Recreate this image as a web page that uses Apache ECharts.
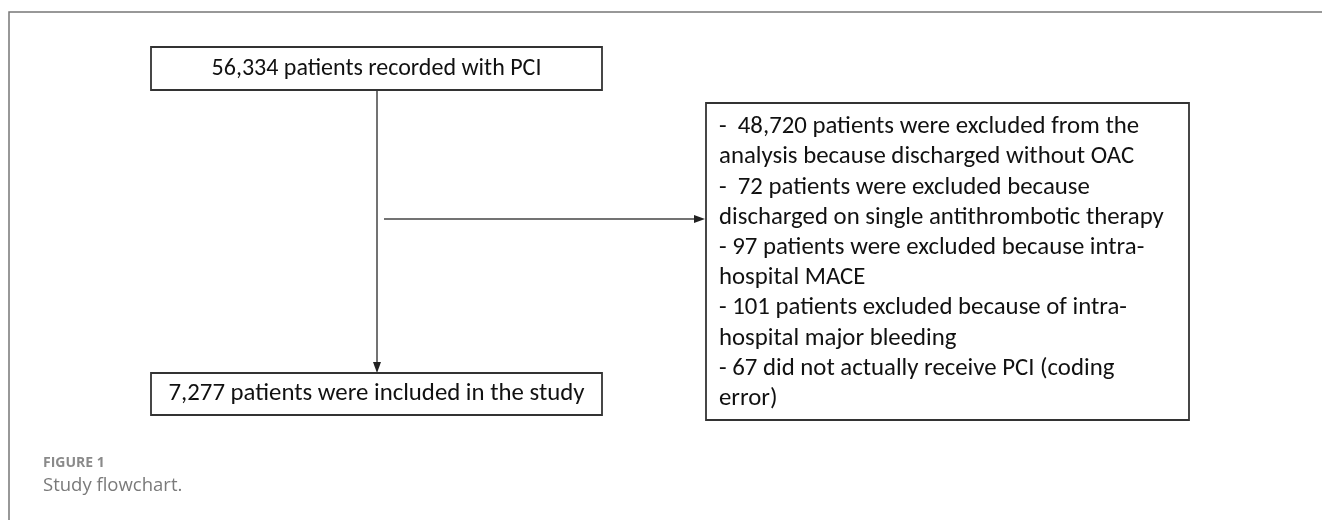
<!DOCTYPE html>
<html>
<head>
    <meta charset="utf-8">
    <title>Study flowchart</title>
    <script src="https://cdn.jsdelivr.net/npm/echarts@6/dist/echarts.min.js"></script>
</head>
<style>
    html, body{
        margin: 0;
        padding: 0;
        background: #fff;
    }
    #main{
        width: 1322px;
        height: 520px;
    }
</style>
<body>
<div id="main"></div>
<script>
    // flowchart content
    var topBox = '56,334 patients recorded with PCI';
    var bottomBox = '7,277 patients were included in the study';
    var exclusionLines = [
        '-  48,720 patients were excluded from the',
        'analysis because discharged without OAC',
        '-  72 patients were excluded because',
        'discharged on single antithrombotic therapy',
        '- 97 patients were excluded because intra-',
        'hospital MACE',
        '- 101 patients excluded because of intra-',
        'hospital major bleeding',
        '- 67 did not actually receive PCI (coding',
        'error)'
    ];
    var captionLabel = 'FIGURE 1';
    var captionText = 'Study flowchart.';

    var boxFont = 'Carlito, Lato, "Liberation Sans", sans-serif';
    var capFont = '"Open Sans", Lato, sans-serif';
    var stroke = '#333';

    function box(x, y, w, h){
        return {type: 'rect', shape: {x: x, y: y, width: w, height: h},
            style: {fill: '#fff', stroke: stroke, lineWidth: 1.8}};
    }
    function line(x1, y1, x2, y2){
        return {type: 'line', shape: {x1: x1, y1: y1, x2: x2, y2: y2},
            style: {stroke: '#444', lineWidth: 1.5}};
    }
    function head(pts){
        return {type: 'polygon', shape: {points: pts}, style: {fill: '#222'}};
    }

    var elements = [];
    // figure frame
    elements.push({type: 'polyline', shape: {points: [[9, 520], [9, 12], [1322, 12]]},
        style: {stroke: '#777', lineWidth: 1.5, fill: null}});

    // arrows
    elements.push(line(377, 90, 377, 364));
    elements.push(head([[373, 362], [381, 362], [377, 373]]));
    elements.push(line(384, 219, 696, 219));
    elements.push(head([[694, 215], [694, 223], [705, 219]]));

    // boxes
    elements.push(box(151, 47, 451, 43));
    elements.push({type: 'text', x: 376.5, y: 69,
        style: {text: topBox, font: '24px ' + boxFont, fill: '#111', align: 'center', verticalAlign: 'middle'}});
    elements.push(box(151, 373, 451, 42));
    elements.push({type: 'text', x: 376.5, y: 394,
        style: {text: bottomBox, font: '24.8px ' + boxFont, fill: '#111', align: 'center', verticalAlign: 'middle'}});
    elements.push(box(706, 103, 483, 317));
    for (var i = 0; i < exclusionLines.length; i++) {
        elements.push({type: 'text', x: 719, y: 127 + i * 30.2,
            style: {text: exclusionLines[i], font: '24.8px ' + boxFont, fill: '#111', align: 'left', verticalAlign: 'middle'}});
    }

    // caption
    elements.push({type: 'text', x: 43, y: 463,
        style: {text: captionLabel, font: 'bold 14px ' + capFont, fill: '#8a8a8a', verticalAlign: 'middle'}});
    elements.push({type: 'text', x: 43, y: 486,
        style: {text: captionText, font: '18.5px ' + capFont, fill: '#7a7a7a', verticalAlign: 'middle'}});

    var myChart = echarts.init(document.getElementById('main'));
    myChart.setOption({
        animation: false,
        graphic: {elements: elements}
    });
</script>
</body>
</html>
